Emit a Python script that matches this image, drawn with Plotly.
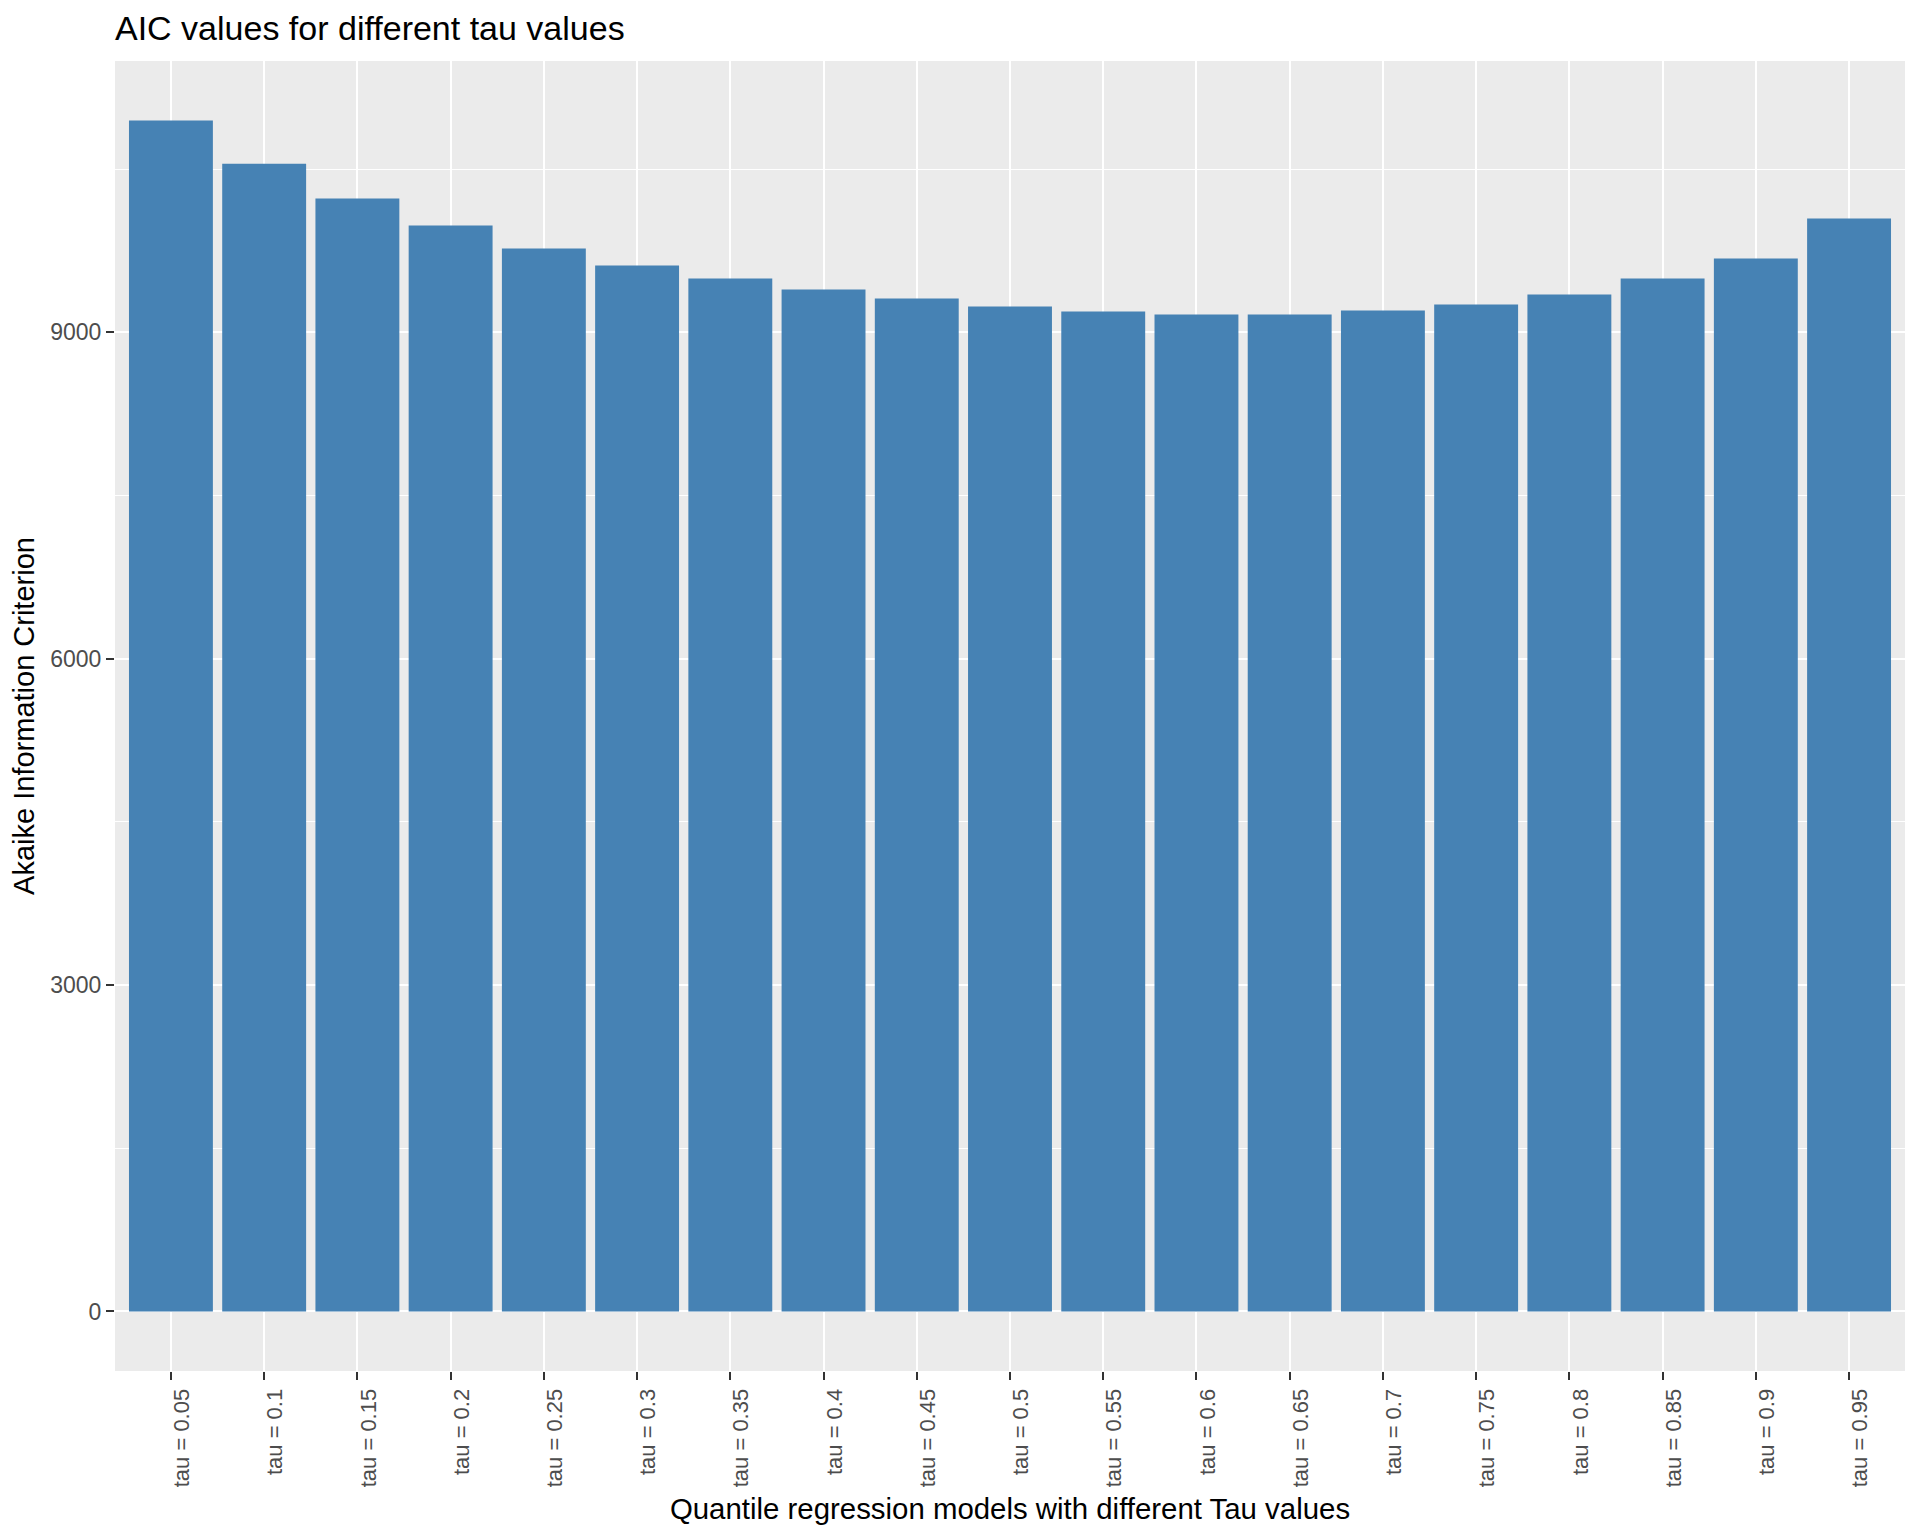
import plotly.graph_objects as go

taus = ["0.05", "0.1", "0.15", "0.2", "0.25", "0.3", "0.35", "0.4", "0.45", "0.5",
        "0.55", "0.6", "0.65", "0.7", "0.75", "0.8", "0.85", "0.9", "0.95"]
categories = ["tau = " + t for t in taus]
aic_values = [10946, 10550, 10229, 9981, 9769, 9613, 9494, 9392, 9310, 9236,
              9190, 9163, 9163, 9199, 9255, 9346, 9494, 9677, 10045]
y_ticks = [0, 3000, 6000, 9000]
y_minor = [1500, 4500, 7500, 10500]

FONT = "Liberation Sans, Arial, Helvetica, sans-serif"
# page body has an 8px margin, so the figure is sized to fit the 1920x1536 window
W, H = 1904, 1520

fig = go.Figure(go.Bar(
    x=categories, y=aic_values,
    marker=dict(color="#4682B4", line=dict(width=0)),
    hoverinfo="x+y",
))

ymax = max(aic_values)
fig.update_layout(
    width=W, height=H,
    paper_bgcolor="white", plot_bgcolor="#EBEBEB",
    margin=dict(l=107, r=7, t=53, b=157, autoexpand=False),
    bargap=0.1,
    showlegend=False,
    font=dict(family=FONT, color="black"),
    title=dict(text="AIC values for different tau values",
               font=dict(family=FONT, size=34, color="black"),
               xref="paper", x=0, xanchor="left",
               yref="container", y=1 - 20.3 / H, yanchor="middle"),
)
fig.update_xaxes(
    type="category", range=[-0.6, len(categories) - 0.4],
    showgrid=True, gridcolor="white", gridwidth=2,
    ticks="outside", ticklen=8, tickwidth=2, tickcolor="#333333",
    tickangle=-90, tickfont=dict(family=FONT, size=22, color="#4D4D4D"),
    ticklabelshift=11,
    showline=False, zeroline=False, automargin=False,
    title=dict(text="Quantile regression models with different Tau values",
               font=dict(family=FONT, size=29.4, color="black"), standoff=12),
)
fig.update_yaxes(
    range=[-0.05 * ymax, 1.05 * ymax],
    tickmode="array", tickvals=y_ticks, ticktext=[str(v) for v in y_ticks],
    showgrid=True, gridcolor="white", gridwidth=2,
    minor=dict(tickmode="array", tickvals=y_minor,
               showgrid=True, gridcolor="white", gridwidth=1, ticks=""),
    ticks="outside", ticklen=8, tickwidth=2, tickcolor="#333333",
    tickfont=dict(family=FONT, size=23, color="#4D4D4D"),
    showline=False, zeroline=False, automargin=False,
    title=dict(text="Akaike Information Criterion",
               font=dict(family=FONT, size=29, color="black"), standoff=8),
)

fig.write_html("out.html")
